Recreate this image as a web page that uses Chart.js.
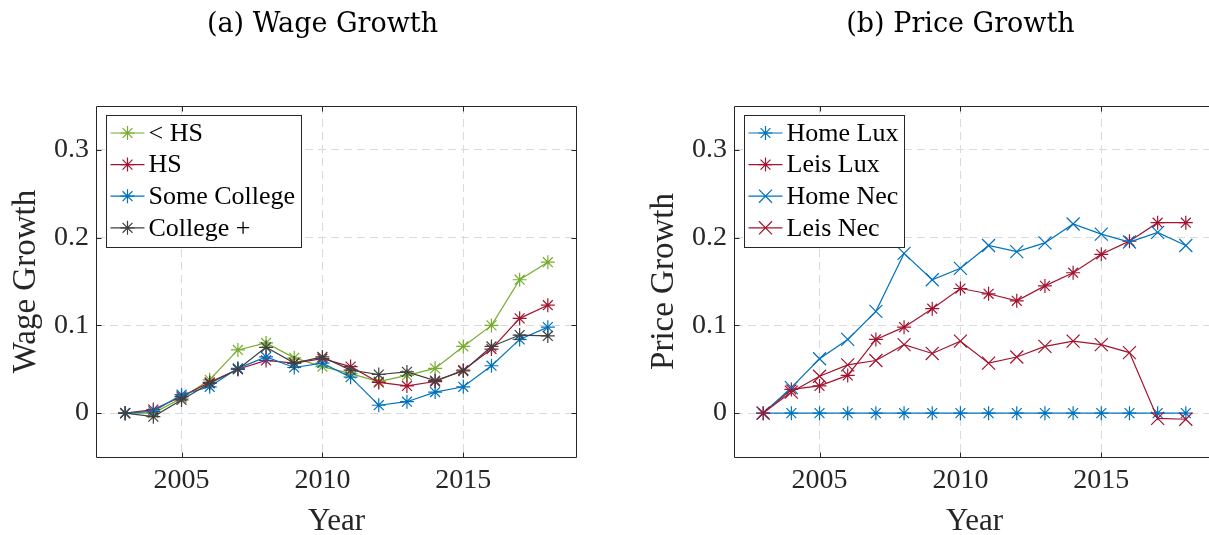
<!DOCTYPE html>
<html><head><meta charset="utf-8">
<script src="https://cdn.jsdelivr.net/npm/chart.js@4.4.1/dist/chart.umd.min.js"></script>
<style>
html,body{margin:0;padding:0;width:1209px;height:535px;overflow:hidden;background:#fff;}
canvas{position:absolute;top:0;}
#c1{left:0;} #c2{left:638px;}
</style></head><body>
<canvas id="c1" width="645" height="550"></canvas>
<canvas id="c2" width="645" height="550"></canvas>
<script>
// ---- data ----
const years = [2003,2004,2005,2006,2007,2008,2009,2010,2011,2012,2013,2014,2015,2016,2017,2018];
const xTickValues = [2005, 2010, 2015];
const yTickValues = [0, 0.1, 0.2, 0.3];

const wageLessHS      = [0, 0.000, 0.017, 0.038, 0.072, 0.080, 0.063, 0.053, 0.045, 0.036, 0.043, 0.051, 0.076, 0.100, 0.152, 0.172];
const wageHS          = [0, 0.004, 0.019, 0.035, 0.050, 0.060, 0.057, 0.062, 0.053, 0.035, 0.031, 0.036, 0.049, 0.073, 0.108, 0.123];
const wageSomeCollege = [0, 0.002, 0.021, 0.030, 0.051, 0.064, 0.052, 0.057, 0.041, 0.009, 0.013, 0.024, 0.030, 0.054, 0.084, 0.098];
const wageCollegePlus = [0, -0.004, 0.015, 0.034, 0.050, 0.075, 0.057, 0.064, 0.049, 0.044, 0.047, 0.037, 0.048, 0.076, 0.089, 0.088];

const priceHomeLux = [0, 0, 0, 0, 0, 0, 0, 0, 0, 0, 0, 0, 0, 0, 0, 0];
const priceLeisLux = [0, 0.027, 0.031, 0.043, 0.084, 0.098, 0.119, 0.142, 0.136, 0.128, 0.145, 0.160, 0.181, 0.196, 0.217, 0.217];
const priceHomeNec = [0, 0.029, 0.062, 0.084, 0.116, 0.182, 0.152, 0.165, 0.191, 0.184, 0.194, 0.2155, 0.204, 0.195, 0.206, 0.191];
const priceLeisNec = [0, 0.024, 0.042, 0.055, 0.060, 0.078, 0.068, 0.082, 0.057, 0.064, 0.076, 0.082, 0.078, 0.069, -0.006, -0.007];

const wageLabels  = ['< HS', 'HS', 'Some College', 'College +'];
const priceLabels = ['Home Lux', 'Leis Lux', 'Home Nec', 'Leis Nec'];

// ---- styles ----
const BLUE = '#0072BD', RED = '#A2142F', GREEN = '#77AC30', GRAY = '#404040';
const AXIS = '#262626', GRID = '#dadada';
const SERIF = '"Liberation Serif", "Times New Roman", serif';
const STAR_R = 7, X_R = 9.2;

function drawMarker(ctx, style, x, y, r) {
  ctx.beginPath();
  if (style === 'star') {
    ctx.moveTo(x - r, y); ctx.lineTo(x + r, y);
    ctx.moveTo(x, y - r); ctx.lineTo(x, y + r);
    const d = r * Math.SQRT1_2;
    ctx.moveTo(x - d, y - d); ctx.lineTo(x + d, y + d);
    ctx.moveTo(x - d, y + d); ctx.lineTo(x + d, y - d);
  } else {
    const d = r * Math.SQRT1_2;
    ctx.moveTo(x - d, y - d); ctx.lineTo(x + d, y + d);
    ctx.moveTo(x - d, y + d); ctx.lineTo(x + d, y - d);
  }
  ctx.stroke();
}

const framePlugin = {
  id: 'matlabFrame',
  afterDatasetsDraw(chart) {
    const {ctx, chartArea: a, scales} = chart;
    const L = Math.round(a.left) - 0.5, R = Math.round(a.right) + 0.5;
    const T = Math.round(a.top) + 0.5, B = Math.round(a.bottom) + 0.5;
    const TL = 5;
    ctx.save();
    ctx.strokeStyle = AXIS; ctx.lineWidth = 1;
    ctx.beginPath();
    ctx.rect(L, T, R - L, B - T);
    xTickValues.forEach(v => {
      const px = Math.round(scales.x.getPixelForValue(v)) + 0.5;
      ctx.moveTo(px, B); ctx.lineTo(px, B - TL);
      ctx.moveTo(px, T); ctx.lineTo(px, T + TL);
    });
    yTickValues.forEach(v => {
      const py = Math.round(scales.y.getPixelForValue(v)) + 0.5;
      ctx.moveTo(L, py); ctx.lineTo(L + TL, py);
      ctx.moveTo(R, py); ctx.lineTo(R - TL, py);
    });
    ctx.stroke();

    // legend box (MATLAB style: line sample + marker)
    const ds = chart.data.datasets;
    const lx = Math.round(a.left) + 9.5, ly = Math.round(a.top) + 9.5;
    ctx.font = '26px ' + SERIF;
    const maxW = Math.max(...ds.map(d => ctx.measureText(d.label).width));
    const w = Math.round(42 + maxW + 6), h = 132;
    ctx.fillStyle = '#fff';
    ctx.fillRect(lx, ly, w, h);
    ctx.strokeStyle = AXIS; ctx.lineWidth = 1;
    ctx.strokeRect(lx, ly, w, h);
    ds.forEach((d, i) => {
      const cy = ly + 17.5 + i * 31.6;
      ctx.strokeStyle = d.borderColor; ctx.lineWidth = d.borderWidth;
      ctx.beginPath(); ctx.moveTo(lx + 4, cy); ctx.lineTo(lx + 38, cy); ctx.stroke();
      drawMarker(ctx, d.pointStyle, lx + 21, cy, d.pointRadius);
      ctx.fillStyle = '#000'; ctx.textBaseline = 'middle'; ctx.textAlign = 'left';
      ctx.fillText(d.label, lx + 42, cy + 1);
    });
    ctx.restore();
  }
};

function series(label, values, color, style, idx, n) {
  return {
    label,
    data: years.map((yr, i) => ({x: yr, y: values[i]})),
    borderColor: color, backgroundColor: color,
    borderWidth: 1.2,
    pointStyle: style,
    pointRadius: style === 'star' ? STAR_R : X_R,
    pointBorderWidth: 1.2,
    pointBorderColor: color, pointBackgroundColor: color,
    fill: false, tension: 0,
    order: n - idx
  };
}

function makeChart(id, title, yTitle, datasets) {
  return new Chart(document.getElementById(id), {
    type: 'line',
    data: { datasets },
    plugins: [framePlugin],
    options: {
      responsive: false, animation: false, devicePixelRatio: 1, events: [],
      layout: { padding: 0 },
      plugins: {
        legend: { display: false },
        tooltip: { enabled: false },
        title: {
          display: true, text: title, color: '#000',
          font: { family: '"DejaVu Serif", serif', size: 27, weight: 'normal', lineHeight: 1.2 },
          padding: { top: 8.8, bottom: 64.8 }
        }
      },
      scales: {
        x: {
          type: 'linear', position: 'bottom', min: 2002, max: 2019,
          afterBuildTicks: s => { s.ticks = xTickValues.map(v => ({value: v})); },
          afterFit: s => { s.height = 93; },
          ticks: { callback: v => String(v), color: AXIS, padding: 7, maxRotation: 0, autoSkip: false,
                   font: { family: SERIF, size: 28 } },
          grid: { color: GRID, lineWidth: 1, drawTicks: false },
          border: { display: false, dash: [8, 5] },
          title: { display: true, text: 'Year', color: AXIS, font: { family: SERIF, size: 31, lineHeight: 1.2 },
                   padding: { top: 0, bottom: 10 } }
        },
        y: {
          type: 'linear', position: 'left', min: -0.05, max: 0.35,
          afterBuildTicks: s => { s.ticks = yTickValues.map(v => ({value: v})); },
          afterFit: s => { s.width = 97; },
          ticks: { callback: v => String(Math.round(v * 10) / 10), color: AXIS, padding: 8,
                   font: { family: SERIF, size: 28 } },
          grid: { color: GRID, lineWidth: 1, drawTicks: false },
          border: { display: false, dash: [8, 5] },
          title: { display: true, text: yTitle, color: AXIS, font: { family: SERIF, size: 33, lineHeight: 1.2 },
                   padding: { top: 6.7, bottom: 0 } }
        },
        yPad: {
          type: 'linear', position: 'right', display: true,
          grid: { display: false }, ticks: { display: false }, border: { display: false },
          afterFit: s => { s.width = 69; }
        }
      }
    }
  });
}

const wageSeries = [wageLessHS, wageHS, wageSomeCollege, wageCollegePlus];
const wageColors = [GREEN, RED, BLUE, GRAY];
makeChart('c1', '(a) Wage Growth', 'Wage Growth',
  wageSeries.map((v, i) => series(wageLabels[i], v, wageColors[i], 'star', i, 4)));

const priceSeries = [priceHomeLux, priceLeisLux, priceHomeNec, priceLeisNec];
const priceColors = [BLUE, RED, BLUE, RED];
const priceStyles = ['star', 'star', 'crossRot', 'crossRot'];
makeChart('c2', '(b) Price Growth', 'Price Growth',
  priceSeries.map((v, i) => series(priceLabels[i], v, priceColors[i], priceStyles[i], i, 4)));
</script>
</body></html>
